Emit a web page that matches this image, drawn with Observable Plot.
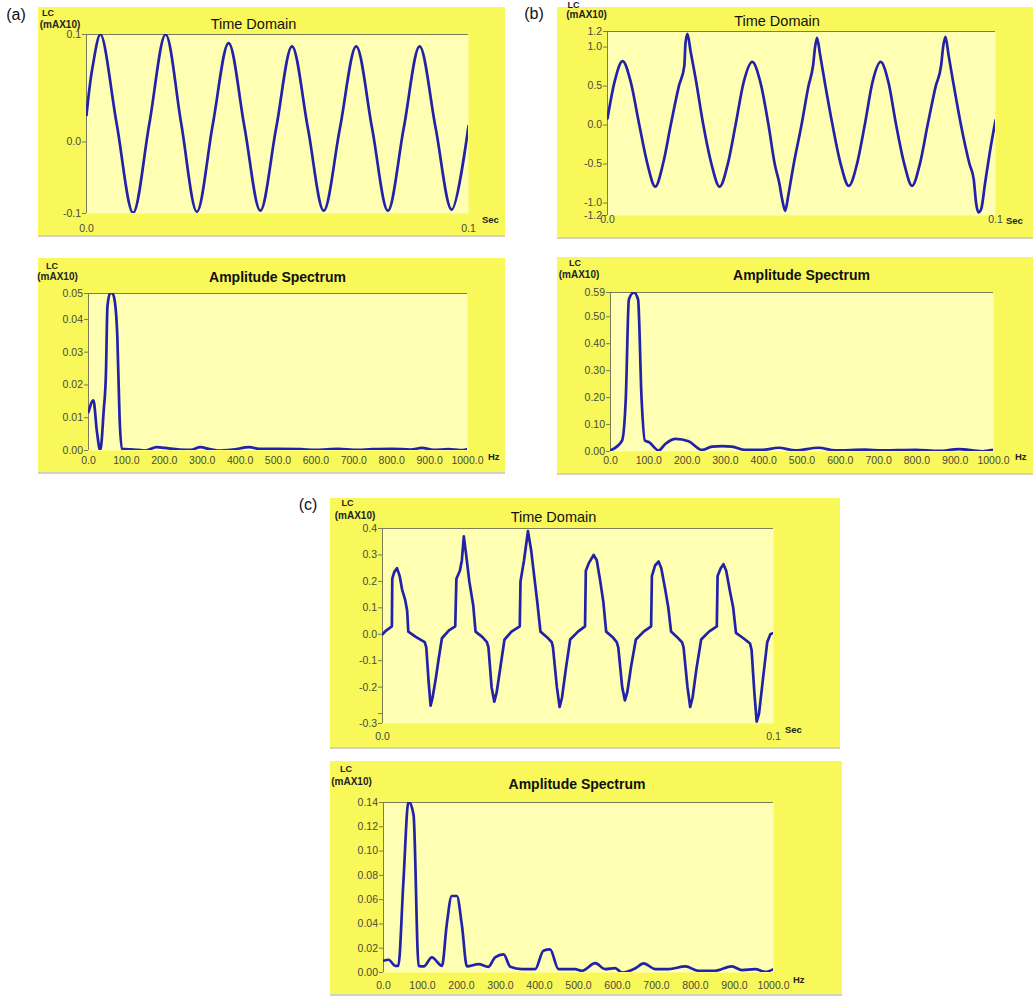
<!DOCTYPE html>
<html>
<head>
<meta charset="utf-8">
<script src="https://cdn.jsdelivr.net/npm/d3@7"></script>
<script src="https://cdn.jsdelivr.net/npm/@observablehq/plot@0.6"></script>
<style>
  body { margin: 0; background: #ffffff; }
  #root { position: relative; width: 1033px; height: 998px; overflow: hidden; font-family: "Liberation Sans", Arial, sans-serif; }
  .panel { position: absolute; background: #f8f85a; box-shadow: 0 2px 0 #d2d2c2; }
  .panel svg { display: block; }
  .t { position: absolute; white-space: nowrap; line-height: 1; color: #111; }
  .c { transform: translate(-50%, -50%); }
  .l { transform: translate(0, -50%); }
  .unit { font-size: 9.5px; font-weight: bold; color: #222; }
  .lc { font-size: 9px; font-weight: bold; color: #222; }
  .mx { font-size: 10px; font-weight: bold; color: #222; }
  .ttl { font-size: 14.5px; color: #111; }
  .ttlb { font-size: 14px; font-weight: bold; color: #111; }
  .tag { font-size: 16px; color: #111; }
</style>
</head>
<body>
<div id="root"></div>
<script>
// ---------------- data (time in ms, amplitude in mA x10; frequency in Hz) ----------------
const timeA = [
  [0, 0.025], [1.6, 0.07], [3.66, 0.100], [7.9, 0.017], [12.2, -0.066], [16.45, 0.017],
  [20.7, 0.100], [24.8, 0.017], [28.9, -0.065], [33.05, 0.016], [37.2, 0.092], [41.35, 0.014],
  [45.5, -0.064], [49.65, 0.013], [53.8, 0.089], [57.95, 0.013], [62.1, -0.064], [66.35, 0.013],
  [70.6, 0.089], [74.75, 0.013], [78.9, -0.064], [83.05, 0.013], [87.2, 0.089], [91.4, 0.013],
  [95.6, -0.063], [100, 0.015]
];
const timeB = [
  [0, 0.085], [1.8, 0.55], [3.9, 0.82], [6.0, 0.55], [8.2, 0.0], [10.3, -0.5], [12.3, -0.79],
  [14.3, -0.5], [16.3, 0.0], [18.4, 0.5], [19.8, 0.76], [20.1, 1.05], [20.6, 1.17], [21.4, 0.95],
  [22.7, 0.6], [24.7, 0.0], [26.8, -0.5], [28.9, -0.79], [31.0, -0.5], [33.0, 0.0], [35.1, 0.55],
  [37.3, 0.81], [39.4, 0.55], [41.5, 0.0], [43.1, -0.5], [44.3, -0.75], [45.0, -0.95], [45.8, -1.1],
  [46.6, -0.9], [48.0, -0.5], [50.0, 0.0], [51.8, 0.5], [53.0, 0.77], [53.5, 1.0], [54.0, 1.12],
  [54.8, 0.9], [56.0, 0.55], [58.0, 0.0], [60.1, -0.5], [62.2, -0.78], [64.3, -0.5], [66.3, 0.0],
  [68.3, 0.55], [70.4, 0.81], [72.4, 0.55], [74.4, 0.0], [76.5, -0.5], [78.5, -0.78], [80.5, -0.5],
  [82.5, 0.0], [84.6, 0.5], [86.0, 0.77], [86.5, 1.0], [87.1, 1.13], [87.9, 0.9], [89.1, 0.55],
  [91.1, 0.0], [93.3, -0.5], [94.4, -0.7], [95.0, -1.0], [95.6, -1.12], [96.3, -1.08], [97.3, -0.75],
  [98.7, -0.3], [100, 0.06]
];
const timeC = [
  [0, 0.0], [1.0, 0.015], [2.4, 0.03], [2.5, 0.21], [3.0, 0.235], [3.7, 0.25], [4.4, 0.22], [5.0, 0.17],
  [5.8, 0.13], [6.3, 0.09], [6.6, 0.01], [8.5, -0.01], [10.8, -0.03], [11.2, -0.05], [11.8, -0.18],
  [12.3, -0.27], [12.8, -0.24], [13.6, -0.17], [14.4, -0.09], [15.2, -0.015], [17.0, 0.015], [18.6, 0.03],
  [18.9, 0.21], [19.8, 0.24], [20.3, 0.28], [20.8, 0.37], [21.4, 0.3], [22.2, 0.2], [23.2, 0.11],
  [23.8, 0.01], [25.5, -0.01], [26.7, -0.03], [27.1, -0.05], [27.9, -0.2], [28.6, -0.255], [29.2, -0.22],
  [30.2, -0.12], [31.2, -0.02], [33.0, 0.01], [35.1, 0.03],
  [35.3, 0.2], [36.2, 0.28], [37.2, 0.39], [38.0, 0.32], [38.8, 0.22], [39.6, 0.12], [40.4, 0.01],
  [42.0, -0.01], [43.3, -0.03], [43.6, -0.05], [44.6, -0.2], [45.3, -0.275], [45.9, -0.24], [46.9, -0.13],
  [48.0, -0.02], [50.0, 0.01], [51.8, 0.03],
  [52.0, 0.24], [52.8, 0.27], [54.0, 0.30], [54.8, 0.28], [55.7, 0.2], [56.5, 0.12], [57.2, 0.01],
  [58.8, -0.01], [59.9, -0.03], [60.3, -0.05], [61.3, -0.2], [62.0, -0.25], [62.6, -0.22], [63.6, -0.12],
  [64.8, -0.02], [66.8, 0.01], [68.7, 0.03],
  [68.9, 0.22], [69.7, 0.26], [70.6, 0.275], [71.3, 0.25], [72.3, 0.17], [73.1, 0.1], [73.8, 0.01],
  [75.3, -0.01], [76.6, -0.03], [77.0, -0.05], [78.0, -0.2], [78.7, -0.275], [79.3, -0.24], [80.3, -0.13],
  [81.5, -0.02], [83.5, 0.01], [85.5, 0.03],
  [85.7, 0.22], [86.5, 0.25], [87.2, 0.265], [87.9, 0.24], [88.9, 0.16], [89.7, 0.1], [90.4, 0.005],
  [92.3, -0.015], [94.0, -0.035], [94.4, -0.06], [95.1, -0.22], [95.7, -0.33], [96.3, -0.3], [97.3, -0.17],
  [98.4, -0.03], [99.2, 0.0], [100, 0.005]
];
const specA = [
  [0, 0.0117], [13, 0.0153], [22, 0.006], [31, 0.0], [40, 0.012], [46, 0.0235], [50, 0.044], [57, 0.048],
  [63, 0.048], [70, 0.045], [76, 0.035], [82, 0.01], [88, 0.0005], [120, 0.0003], [150, 0.0], [180, 0.001],
  [200, 0.0008], [240, 0.0003], [270, 0.0002], [295, 0.001], [320, 0.0004], [340, 0.0], [380, 0.0003],
  [425, 0.001], [450, 0.0005], [500, 0.0005], [560, 0.0004], [600, 0.0002], [660, 0.0005], [700, 0.0002],
  [750, 0.0004], [800, 0.0005], [850, 0.0003], [880, 0.0008], [910, 0.0002], [950, 0.0004], [980, 0.0001],
  [1000, 0.0004]
];
const specB = [
  [0, 0.004], [30, 0.04], [40, 0.2], [48, 0.564], [61, 0.59], [72, 0.564], [81, 0.2], [90, 0.04],
  [100, 0.035], [126, 0.004], [143, 0.028], [170, 0.047], [204, 0.038], [239, 0.006], [265, 0.018],
  [291, 0.02], [317, 0.018], [352, 0.006], [396, 0.006], [439, 0.014], [483, 0.004], [543, 0.014],
  [587, 0.004], [665, 0.007], [709, 0.004], [796, 0.006], [857, 0.002], [909, 0.009], [970, 0.001],
  [1000, 0.006]
];
const specC = [
  [0, 0.0097], [13, 0.0105], [30, 0.0055], [38, 0.0055], [51, 0.0745], [64, 0.141], [77, 0.13],
  [90, 0.0055], [103, 0.005], [124, 0.0124], [150, 0.0055], [162, 0.039], [175, 0.063], [188, 0.063],
  [201, 0.039], [214, 0.005], [244, 0.0069], [269, 0.0047], [286, 0.0124], [308, 0.015], [325, 0.0047],
  [355, 0.0028], [389, 0.0028], [410, 0.018], [427, 0.019], [449, 0.0028], [491, 0.0028], [509, 0.0014],
  [543, 0.0077], [568, 0.0028], [594, 0.0036], [611, 0.0], [645, 0.0033], [667, 0.0075], [697, 0.0028],
  [731, 0.0028], [774, 0.005], [808, 0.0014], [850, 0.0014], [893, 0.005], [919, 0.002], [953, 0.0028],
  [979, 0.0005], [1000, 0.0028]
];

// tick values and their printed labels
const timeXTicks = [0, 0.1];
const timeXLabels = ["0.0", "0.1"];
const specXTicks = [0, 100, 200, 300, 400, 500, 600, 700, 800, 900, 1000];
const specXLabels = ["0.0", "100.0", "200.0", "300.0", "400.0", "500.0", "600.0", "700.0", "800.0", "900.0", "1000.0"];
const yTicksTA = [0.1, 0.0, -0.0666];
const yLabelsTA = ["0.1", "0.0", "-0.1"];
const yTicksTB = [1.2, 1.0, 0.5, 0.0, -0.5, -1.0, -1.16];
const yLabelsTB = ["1.2", "1.0", "0.5", "0.0", "-0.5", "-1.0", "-1.2"];
const yTicksTC = [0.4, 0.3, 0.2, 0.1, 0.0, -0.1, -0.2, -0.3, -0.3375];
const yLabelsTC = ["0.4", "0.3", "0.2", "0.1", "0.0", "-0.1", "-0.2", "", "-0.3"];
const yTicksSA = [0.0479, 0.04, 0.03, 0.02, 0.01, 0.0];
const yLabelsSA = ["0.05", "0.04", "0.03", "0.02", "0.01", "0.00"];
const yTicksSB = [0.59, 0.5, 0.4, 0.3, 0.2, 0.1, 0.0];
const yLabelsSB = ["0.59", "0.50", "0.40", "0.30", "0.20", "0.10", "0.00"];
const yTicksSC = [0.14, 0.12, 0.10, 0.08, 0.06, 0.04, 0.02, 0.0];
const yLabelsSC = ["0.14", "0.12", "0.10", "0.08", "0.06", "0.04", "0.02", "0.00"];

// ---------------- drawing ----------------
const PLOT_BG = "#ffffb4", AXIS_C = "#7c7c55", LABEL_C = "#4a4a3a", LINE_C = "#2222a8";
const root = document.getElementById("root");

function label(text, x, y, cls, anchor) {
  const d = document.createElement("div");
  d.className = "t " + cls + " " + (anchor || "c");
  d.textContent = text;
  d.style.left = x + "px";
  d.style.top = y + "px";
  root.appendChild(d);
}

function panel(cfg) {
  const div = document.createElement("div");
  div.className = "panel";
  Object.assign(div.style, {left: cfg.fx + "px", top: cfg.fy + "px", width: cfg.fw + "px", height: cfg.fh + "px"});
  const ml = cfg.px0 - cfg.fx, mr = cfg.fx + cfg.fw - cfg.px1, mt = cfg.py0 - cfg.fy, mb = cfg.fy + cfg.fh - cfg.py1;
  const xMap = new Map(cfg.xTicks.map((d, i) => [d, cfg.xLabels[i]]));
  const yMap = new Map(cfg.yTicks.map((d, i) => [d, cfg.yLabels[i]]));
  const data = cfg.data.map(([x, y]) => ({x: x * cfg.xScale, y}));
  const chart = Plot.plot({
    width: cfg.fw, height: cfg.fh,
    marginLeft: ml, marginRight: mr, marginTop: mt, marginBottom: mb,
    style: {background: "transparent", fontFamily: '"Liberation Sans", Arial, sans-serif', fontSize: "10.5px", overflow: "visible"},
    x: {domain: cfg.xDomain, label: null},
    y: {domain: cfg.yDomain, label: null},
    marks: [
      Plot.frame({fill: PLOT_BG, stroke: null}),
      Plot.ruleY([cfg.yDomain[1]], {stroke: AXIS_C, strokeWidth: 1}),
      Plot.ruleX([cfg.xDomain[0]], {stroke: AXIS_C, strokeWidth: 1}),
      Plot.axisY({ticks: cfg.yTicks, tickFormat: d => yMap.get(d), tickSize: 4, tickPadding: 1.5, stroke: AXIS_C, fill: LABEL_C, label: null}),
      Plot.axisX({ticks: cfg.xTicks, tickFormat: d => xMap.get(d), tickSize: 0, tickPadding: cfg.xPad, fill: LABEL_C, label: null}),
      Plot.line(data, {x: "x", y: "y", stroke: LINE_C, strokeWidth: 2.7, curve: cfg.curve, clip: true})
    ]
  });
  div.appendChild(chart);
  root.appendChild(div);
}

// (a) time domain
panel({fx: 38, fy: 7, fw: 467, fh: 228, px0: 86, px1: 468, py0: 34, py1: 213,
  data: timeA, xScale: 0.001, xDomain: [0, 0.1], yDomain: [-0.0666, 0.1],
  xTicks: timeXTicks, xLabels: timeXLabels, yTicks: yTicksTA, yLabels: yLabelsTA, xPad: 11, curve: "catmull-rom"});
// (a) amplitude spectrum
panel({fx: 38, fy: 258, fw: 467, fh: 214, px0: 88, px1: 467, py0: 293, py1: 450,
  data: specA, xScale: 1, xDomain: [0, 1000], yDomain: [0, 0.0479],
  xTicks: specXTicks, xLabels: specXLabels, yTicks: yTicksSA, yLabels: yLabelsSA, xPad: 6, curve: "monotone-x"});
// (b) time domain
panel({fx: 557, fy: 7, fw: 476, fh: 230, px0: 607, px1: 995, py0: 31, py1: 215,
  data: timeB, xScale: 0.001, xDomain: [0, 0.1], yDomain: [-1.16, 1.2],
  xTicks: timeXTicks, xLabels: timeXLabels, yTicks: yTicksTB, yLabels: yLabelsTB, xPad: 0, curve: "monotone-x"});
// (b) amplitude spectrum
panel({fx: 557, fy: 257, fw: 476, fh: 216, px0: 610, px1: 993, py0: 292, py1: 451,
  data: specB, xScale: 1, xDomain: [0, 1000], yDomain: [0, 0.59],
  xTicks: specXTicks, xLabels: specXLabels, yTicks: yTicksSB, yLabels: yLabelsSB, xPad: 5, curve: "monotone-x"});
// (c) time domain
panel({fx: 330, fy: 498, fw: 510, fh: 249, px0: 382, px1: 773, py0: 528, py1: 723,
  data: timeC, xScale: 0.001, xDomain: [0, 0.1], yDomain: [-0.3375, 0.4],
  xTicks: timeXTicks, xLabels: timeXLabels, yTicks: yTicksTC, yLabels: yLabelsTC, xPad: 9, curve: "linear"});
// (c) amplitude spectrum
panel({fx: 330, fy: 761, fw: 512, fh: 233, px0: 383, px1: 773, py0: 802, py1: 972,
  data: specC, xScale: 1, xDomain: [0, 1000], yDomain: [0, 0.14],
  xTicks: specXTicks, xLabels: specXLabels, yTicks: yTicksSC, yLabels: yLabelsSC, xPad: 9, curve: "monotone-x"});

// texts
label("(a)", 16, 15, "tag");
label("(b)", 534, 14, "tag");
label("(c)", 308, 505, "tag");

label("LC", 48, 12.5, "lc");      label("(mAX10)", 60, 24.5, "mx");
label("Time Domain", 253.5, 24, "ttl");
label("Sec", 482, 219.5, "unit", "l");

label("LC", 52, 265.5, "lc");     label("(mAX10)", 57.5, 277, "mx");
label("Amplitude Spectrum", 277.5, 277, "ttlb");
label("Hz", 488, 457, "unit", "l");

label("LC", 573.5, 5, "lc");      label("(mAX10)", 586.5, 14.5, "mx");
label("Time Domain", 777, 20.5, "ttl");
label("Sec", 1006, 220.5, "unit", "l");

label("LC", 575, 262.5, "lc");    label("(mAX10)", 579, 275, "mx");
label("Amplitude Spectrum", 801.5, 275, "ttlb");
label("Hz", 1015, 457, "unit", "l");

label("LC", 347.5, 502.5, "lc");  label("(mAX10)", 355, 516, "mx");
label("Time Domain", 553.5, 516.5, "ttl");
label("Sec", 785, 730, "unit", "l");

label("LC", 346, 769, "lc");      label("(mAX10)", 351.5, 782, "mx");
label("Amplitude Spectrum", 577, 784, "ttlb");
label("Hz", 793, 980, "unit", "l");
</script>
</body>
</html>
